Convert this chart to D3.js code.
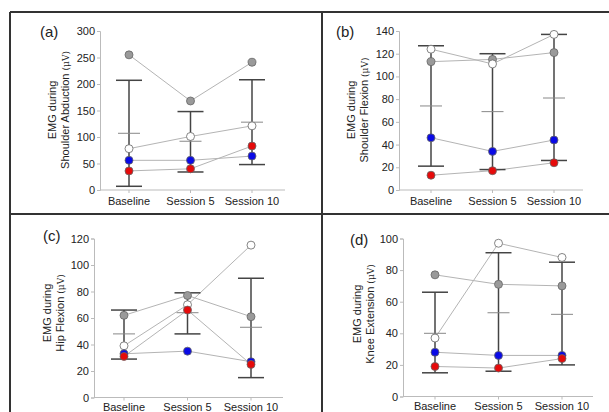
<!DOCTYPE html>
<html>
<head>
<meta charset="utf-8">
<script src="https://cdn.jsdelivr.net/npm/d3@7"></script>
<style>
  body { margin: 0; background: #fff; }
  text { font-family: Arial, "Liberation Sans", sans-serif; fill: #222; }
</style>
</head>
<body>
<div id="chart"></div>
<script>
const sessions = ['Baseline', 'Session 5', 'Session 10'];

// (a) shoulder abduction
const abdGray  = [255, 168, 241];
const abdWhite = [78, 101, 121];
const abdBlue  = [56, 56, 64];
const abdRed   = [36, 40, 83];
const abdMean  = [107, 92, 128];
const abdUpper = [207, 148, 208];
const abdLower = [7, 34, 48];

// (b) shoulder flexion
const flexGray  = [113, 115, 121];
const flexWhite = [124, 111, 137];
const flexBlue  = [46, 34, 44];
const flexRed   = [13, 17, 24];
const flexMean  = [74, 69, 81];
const flexUpper = [127, 120, 137];
const flexLower = [21, 18, 26];

// (c) hip flexion
const hipGray  = [62, 77, 61];
const hipWhite = [39, 70, 115];
const hipBlue  = [33, 35, 27];
const hipRed   = [31, 66, 25];
const hipMean  = [48, 64, 53];
const hipUpper = [66, 79, 90];
const hipLower = [29, 48, 15];

// (d) knee extension
const kneeGray  = [77, 71, 70];
const kneeWhite = [37, 97, 88];
const kneeBlue  = [28, 26, 26];
const kneeRed   = [19, 18, 24];
const kneeMean  = [40, 53, 52];
const kneeUpper = [66, 91, 85];
const kneeLower = [15, 16, 20];

const W = 609, H = 412;

const svg = d3.select('#chart').append('svg')
  .attr('width', W)
  .attr('height', H);

svg.append('rect').attr('width', W).attr('height', H).attr('fill', '#fff');

// frame lines
const frame = [
  [10, 12, 609, 12],
  [10, 214, 609, 214],
  [10, 12, 10, 412],
  [322, 12, 322, 412]
];
svg.selectAll('line.frame').data(frame).enter().append('line')
  .attr('class', 'frame')
  .attr('x1', d => d[0]).attr('y1', d => d[1])
  .attr('x2', d => d[2]).attr('y2', d => d[3])
  .attr('stroke', '#333')
  .attr('stroke-width', 2);

const panels = [
  {
    tag: '(a)', tagX: 40, tagY: 37,
    muscle: 'Shoulder Abduction', labX: 56, labY: 110,
    axisX: 100, y0: 190, yTop: 31, max: 300, step: 50, labOff: 15,
    xFirst: 129, xLast: 252, xEnd: 285,
    gray: abdGray, white: abdWhite, blue: abdBlue, red: abdRed,
    mean: abdMean, upper: abdUpper, lower: abdLower
  },
  {
    tag: '(b)', tagX: 336, tagY: 37,
    muscle: 'Shoulder Flexion', labX: 355, labY: 110,
    axisX: 399, y0: 190, yTop: 31, max: 140, step: 20, labOff: 15,
    xFirst: 431, xLast: 554, xEnd: 583,
    gray: flexGray, white: flexWhite, blue: flexBlue, red: flexRed,
    mean: flexMean, upper: flexUpper, lower: flexLower
  },
  {
    tag: '(c)', tagX: 43, tagY: 241,
    muscle: 'Hip Flexion', labX: 51, labY: 313,
    axisX: 94, y0: 397.5, yTop: 238.5, max: 120, step: 20, labOff: 13,
    xFirst: 124, xLast: 251, xEnd: 283,
    gray: hipGray, white: hipWhite, blue: hipBlue, red: hipRed,
    mean: hipMean, upper: hipUpper, lower: hipLower
  },
  {
    tag: '(d)', tagX: 350, tagY: 245,
    muscle: 'Knee Extension', labX: 361, labY: 314,
    axisX: 403, y0: 396.5, yTop: 238.5, max: 100, step: 20, labOff: 13.5,
    xFirst: 435, xLast: 562, xEnd: 593,
    gray: kneeGray, white: kneeWhite, blue: kneeBlue, red: kneeRed,
    mean: kneeMean, upper: kneeUpper, lower: kneeLower
  }
];

const drawPanel = (p) => {
  const g = svg.append('g');

  const x = d3.scalePoint().domain(sessions).range([p.xFirst, p.xLast]);
  const y = d3.scaleLinear().domain([0, p.max]).range([p.y0, p.yTop]);

  // y axis
  const yAxis = g.append('g')
    .attr('transform', 'translate(' + p.axisX + ',0)')
    .call(d3.axisLeft(y).tickValues(d3.range(0, p.max + 1, p.step)).tickSize(3).tickPadding(2));
  yAxis.select('.domain').attr('stroke', '#bbb');
  yAxis.selectAll('.tick line').attr('stroke', '#bbb');
  yAxis.selectAll('.tick text').attr('font-size', 11).attr('fill', '#222');

  // x axis
  const xAxis = g.append('g')
    .attr('transform', 'translate(0,' + p.y0 + ')');
  xAxis.append('line')
    .attr('x1', p.axisX).attr('x2', p.xEnd)
    .attr('stroke', '#bbb');
  xAxis.selectAll('line.tk').data(sessions).enter().append('line')
    .attr('class', 'tk')
    .attr('x1', d => x(d)).attr('x2', d => x(d))
    .attr('y1', 0).attr('y2', 3)
    .attr('stroke', '#bbb');
  xAxis.selectAll('text').data(sessions).enter().append('text')
    .attr('x', d => x(d))
    .attr('y', p.labOff)
    .attr('text-anchor', 'middle')
    .attr('font-size', 11)
    .text(d => d);

  // panel tag
  g.append('text')
    .attr('x', p.tagX).attr('y', p.tagY)
    .attr('font-size', 15)
    .text(p.tag);

  // y label, two lines
  const lab = g.append('text')
    .attr('transform', 'translate(' + p.labX + ',' + p.labY + ') rotate(-90)')
    .attr('text-anchor', 'middle')
    .attr('font-size', 11);
  lab.append('tspan').attr('x', 0).attr('y', 0).text('EMG during');
  lab.append('tspan').attr('x', 0).attr('y', 13).text(p.muscle + ' ');
  lab.append('tspan').attr('font-size', 9).attr('font-family', '"DejaVu Serif", serif').text('(\u03bcV)');

  // connecting lines
  const line = d3.line()
    .x((d, i) => x(sessions[i]))
    .y(d => y(d));
  const series = [
    {vals: p.gray, fill: '#9a9a9a'},
    {vals: p.white, fill: '#fff'},
    {vals: p.blue, fill: '#0a0ae6'},
    {vals: p.red, fill: '#e60a0a'}
  ];
  g.selectAll('path.conn').data(series).enter().append('path')
    .attr('class', 'conn')
    .attr('d', d => line(d.vals))
    .attr('fill', 'none')
    .attr('stroke', '#b4b4b4')
    .attr('stroke-width', 1);

  // error bars
  const bars = sessions.map((s, i) => ({s, mean: p.mean[i], hi: p.upper[i], lo: p.lower[i]}));
  const eb = g.selectAll('g.eb').data(bars).enter().append('g').attr('class', 'eb');
  eb.append('line')
    .attr('x1', d => x(d.s)).attr('x2', d => x(d.s))
    .attr('y1', d => y(d.hi)).attr('y2', d => y(d.lo))
    .attr('stroke', '#444').attr('stroke-width', 1.5);
  eb.append('line')
    .attr('x1', d => x(d.s) - 13).attr('x2', d => x(d.s) + 13)
    .attr('y1', d => y(d.hi)).attr('y2', d => y(d.hi))
    .attr('stroke', '#444').attr('stroke-width', 1.5);
  eb.append('line')
    .attr('x1', d => x(d.s) - 13).attr('x2', d => x(d.s) + 13)
    .attr('y1', d => y(d.lo)).attr('y2', d => y(d.lo))
    .attr('stroke', '#444').attr('stroke-width', 1.5);
  eb.append('line')
    .attr('x1', d => x(d.s) - 11).attr('x2', d => x(d.s) + 11)
    .attr('y1', d => y(d.mean)).attr('y2', d => y(d.mean))
    .attr('stroke', '#888').attr('stroke-width', 1);

  // points
  series.forEach(sr => {
    g.selectAll(null).data(sr.vals).enter().append('circle')
      .attr('cx', (d, i) => x(sessions[i]))
      .attr('cy', d => y(d))
      .attr('r', 4)
      .attr('fill', sr.fill)
      .attr('stroke', '#666')
      .attr('stroke-width', 0.8);
  });
};

panels.forEach(drawPanel);
</script>
</body>
</html>
